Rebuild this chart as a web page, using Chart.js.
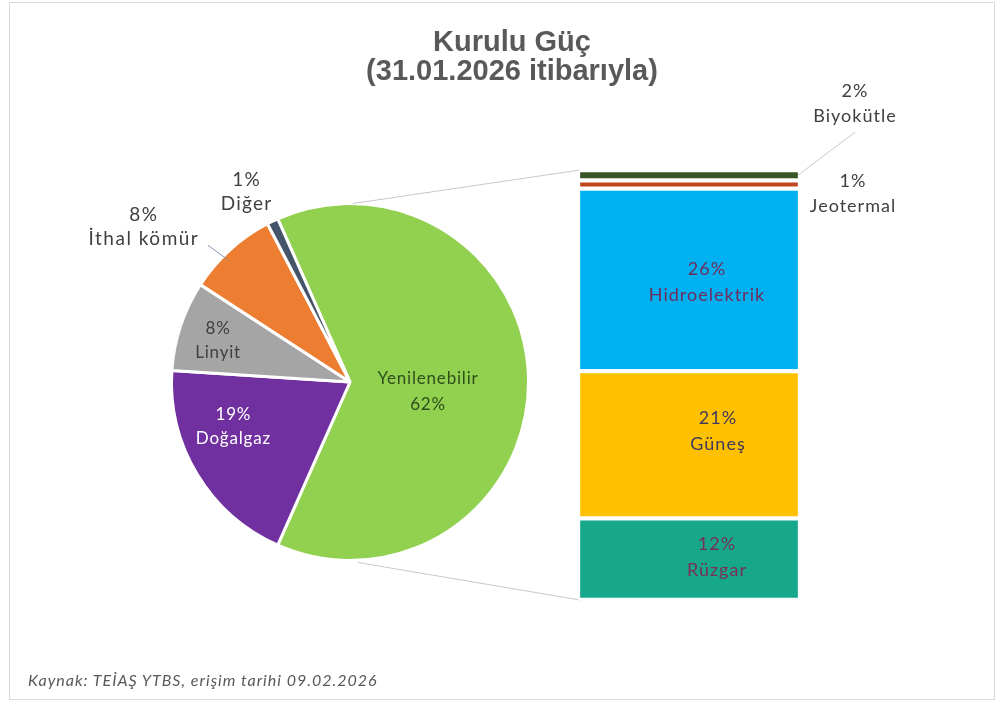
<!DOCTYPE html>
<html><head><meta charset="utf-8">
<script src="https://cdn.jsdelivr.net/npm/chart.js@4"></script>
<style>
html,body{margin:0;padding:0;background:#fff;}
#wrap{position:relative;width:1001px;height:704px;overflow:hidden;background:#fff;}
#frame{position:absolute;left:9px;top:2px;width:986px;height:698px;border:1px solid #D9D9D9;box-sizing:border-box;}
canvas{position:absolute;left:0;top:0;}
.title{position:absolute;left:0;width:1024px;text-align:center;font-family:'Liberation Sans Narrow','Liberation Sans',Arial,sans-serif;font-weight:bold;color:#595959;font-size:29px;line-height:30px;}
#foot{position:absolute;left:28px;top:670px;font-family:Lato,'Open Sans',sans-serif;font-style:italic;font-size:16px;letter-spacing:1px;color:#595959;}
</style></head>
<body>
<div id="wrap">
<div id="frame"></div>
<canvas id="pie" width="1001" height="704"></canvas>
<canvas id="bar" width="1001" height="704"></canvas>
<div class="title" style="top:26px">Kurulu Güç</div>
<div class="title" style="top:55px">(31.01.2026 itibarıyla)</div>
<div id="foot">Kaynak: TEİAŞ YTBS, erişim tarihi 09.02.2026</div>
</div>
<script>
// ---- data ----
const pieLabels = ['Yenilenebilir', 'Doğalgaz', 'Linyit', 'İthal kömür', 'Diğer'];
const pieValues = [62, 19, 8, 8, 1];
const pieColors = ['#92D050', '#7030A0', '#A5A5A5', '#ED7D31', '#44546A'];

const barLabels = ['Rüzgar', 'Güneş', 'Hidroelektrik', 'Jeotermal', 'Biyokütle'];
const barValues = [11.8, 21.3, 26.4, 1.2, 1.5];
const barColors = ['#17A78A', '#FFC000', '#00B0F0', '#C0461E', '#375623'];

// ---- layout (label placement) ----
const FONT = "Lato, 'Open Sans', sans-serif";
const pieLabelStyle = [
  {r: 0.44, a: 6.6, color: '#2E4F1A', nameFirst: true, size: 17, ls: 0.8},
  {r: 0.70, a: 159, color: '#FFFFFF', nameFirst: false, size: 17, ls: 0.8},
  {r: 0.775, a: 197.5, color: '#404040', nameFirst: false, size: 17, ls: 0.8},
  {r: 1.444, a: 216.9, color: '#404040', nameFirst: false, size: 19, ls: 1.5, leader: 225},
  {r: 1.21, a: 241.4, color: '#404040', nameFirst: false, size: 19, ls: 1.2}
];
const barLabelStyle = [
  {inside: true, dx: 28, dy: -2, color: '#7A2F55'},
  {inside: true, dx: 29, dy: -14, color: '#3F3A5A'},
  {inside: true, dx: 18, dy: 2, color: '#6E2E5C'},
  {inside: false, dx: 53, dy: 9, color: '#404040'},
  {inside: false, dx: 55, dy: -71, color: '#404040', leader: true}
];

function drawTwo(ctx, x, y, l1, l2, color, size, lh, ls) {
  ctx.save();
  ctx.fillStyle = color;
  ctx.font = size + 'px ' + FONT;
  ctx.letterSpacing = (ls || 0) + 'px';
  ctx.textAlign = 'center';
  ctx.textBaseline = 'middle';
  ctx.fillText(l1, x, y - lh / 2);
  ctx.fillText(l2, x, y + lh / 2);
  ctx.restore();
}

const pieTotal = pieValues.reduce((a, b) => a + b, 0);
const halfGreen = pieValues[0] / pieTotal * 360 / 2;

const pieLabelPlugin = {
  id: 'pieLabels',
  afterDraw(chart) {
    const ctx = chart.ctx;
    const arc0 = chart.getDatasetMeta(0).data[0];
    const cx = arc0.x, cy = arc0.y, R = arc0.outerRadius;
    pieLabels.forEach((name, i) => {
      const s = pieLabelStyle[i];
      const a = s.a * Math.PI / 180;
      const x = cx + Math.cos(a) * R * s.r;
      const y = cy + Math.sin(a) * R * s.r;
      const pct = pieValues[i] + '%';
      if (s.leader !== undefined) {
        const la = s.leader * Math.PI / 180;
        ctx.save();
        ctx.strokeStyle = '#8497B0';
        ctx.lineWidth = 1;
        ctx.beginPath();
        ctx.moveTo(x + 64, y + 18);
        ctx.lineTo(cx + Math.cos(la) * R * 0.97, cy + Math.sin(la) * R * 0.97);
        ctx.stroke();
        ctx.restore();
      }
      if (s.nameFirst) drawTwo(ctx, x, y, name, pct, s.color, s.size, 26, s.ls);
      else drawTwo(ctx, x, y, pct, name, s.color, s.size, 24, s.ls);
    });
  }
};

const pieChart = new Chart(document.getElementById('pie'), {
  type: 'pie',
  data: {
    labels: pieLabels,
    datasets: [{data: pieValues, backgroundColor: pieColors, borderColor: '#FFFFFF', borderWidth: 3}]
  },
  options: {
    responsive: false,
    animation: false,
    rotation: 90 - halfGreen,
    layout: {padding: {left: 170, right: 471, top: 201, bottom: 141}},
    plugins: {legend: {display: false}, tooltip: {enabled: false}, title: {display: false}}
  },
  plugins: [pieLabelPlugin]
});

const barTotal = barValues.reduce((a, b) => a + b, 0);

const barLabelPlugin = {
  id: 'barLabels',
  beforeDatasetsDraw(chart) {
    const ctx = chart.ctx;
    const arc0 = pieChart.getDatasetMeta(0).data[0];
    const cx = arc0.x, cy = arc0.y, R = arc0.outerRadius;
    const bottomEl = chart.getDatasetMeta(0).data[0];
    const topEl = chart.getDatasetMeta(barValues.length - 1).data[0];
    const left = bottomEl.x - bottomEl.width / 2 + 2;
    ctx.save();
    ctx.strokeStyle = '#C8C8C8';
    ctx.lineWidth = 1;
    ctx.beginPath();
    ctx.moveTo(cx + 3, cy - R);
    ctx.lineTo(left, topEl.y);
    ctx.moveTo(cx + 8, cy + R + 2);
    ctx.lineTo(left, bottomEl.base);
    ctx.stroke();
    ctx.restore();
  },
  afterDraw(chart) {
    const ctx = chart.ctx;
    barLabels.forEach((name, i) => {
      const el = chart.getDatasetMeta(i).data[0];
      const s = barLabelStyle[i];
      const midY = (el.y + el.base) / 2;
      const pct = Math.round(barValues[i]) + '%';
      if (s.inside) {
        drawTwo(ctx, el.x + s.dx, midY + s.dy, pct, name, s.color, 18, 26, 1);
      } else {
        const right = el.x + el.width / 2;
        const x = right + s.dx, y = midY + s.dy;
        if (s.leader) {
          ctx.save();
          ctx.strokeStyle = '#C8C8C8';
          ctx.lineWidth = 1;
          ctx.beginPath();
          ctx.moveTo(right - 2, midY);
          ctx.lineTo(x, y + 28);
          ctx.stroke();
          ctx.restore();
        }
        drawTwo(ctx, x, y, pct, name, s.color, 18, 25, 1);
      }
    });
  }
};

new Chart(document.getElementById('bar'), {
  type: 'bar',
  data: {
    labels: ['Yenilenebilir'],
    datasets: barLabels.map((name, i) => ({
      label: name,
      data: [barValues[i]],
      backgroundColor: barColors[i],
      borderColor: '#FFFFFF',
      borderWidth: 2.5,
      borderSkipped: false,
      barPercentage: 1,
      categoryPercentage: 1
    }))
  },
  options: {
    responsive: false,
    animation: false,
    layout: {padding: {left: 578, right: 201, top: 170, bottom: 104}},
    scales: {
      x: {display: false, stacked: true},
      y: {display: false, stacked: true, min: 0, max: barTotal}
    },
    plugins: {legend: {display: false}, tooltip: {enabled: false}, title: {display: false}}
  },
  plugins: [barLabelPlugin]
});
</script>
</body></html>
